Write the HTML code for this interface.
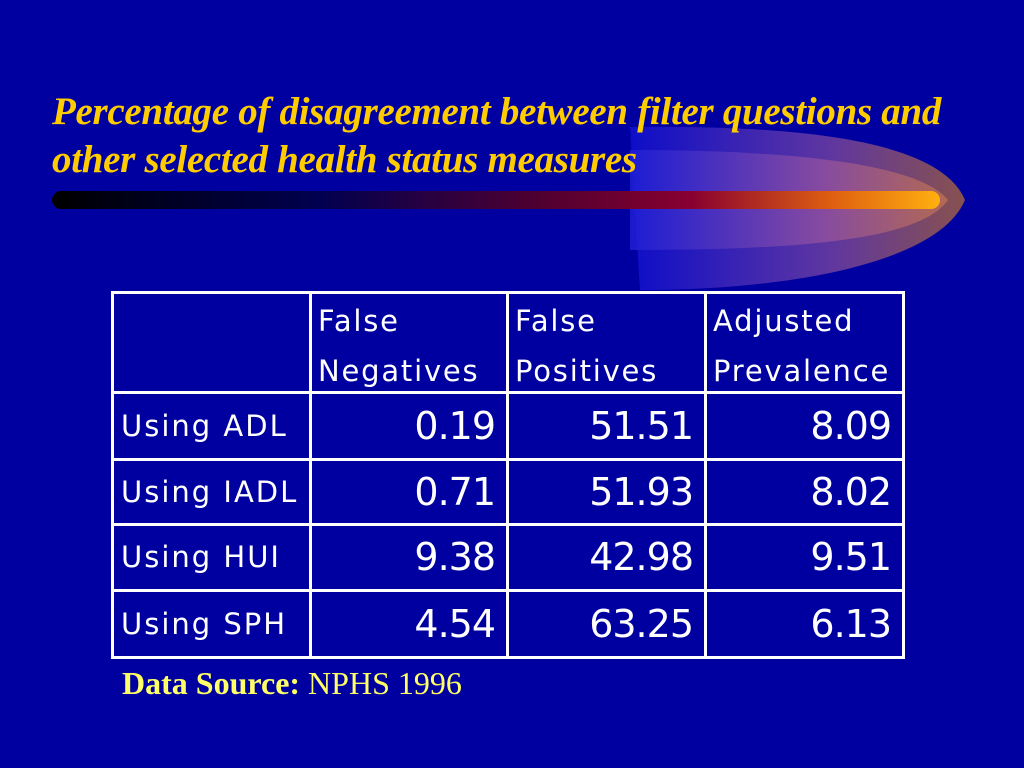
<!DOCTYPE html>
<html><head><meta charset="utf-8">
<style>
html,body{margin:0;padding:0}
body{width:1024px;height:768px;background:#0000a0;position:relative;overflow:hidden;font-family:"Liberation Sans",sans-serif}
.title{position:absolute;left:52px;top:88px;color:#ffcc00;font:italic bold 39px/48px "Liberation Serif",serif;margin:0;white-space:nowrap;letter-spacing:-0.3px}
#tbl{position:absolute;left:0;top:0}
.cell{position:absolute;color:#fff;font-family:"DejaVu Sans",sans-serif;box-sizing:border-box;white-space:nowrap}
.src{position:absolute;left:122px;top:665px;font:32px "Liberation Serif",serif;color:#ffff66}
</style></head><body>
<svg width="1024" height="768" style="position:absolute;left:0;top:0">
<defs>
<linearGradient id="glow" x1="0" x2="1"><stop offset="0" stop-color="#1010d0"/><stop offset="0.6" stop-color="#7040a0"/><stop offset="1" stop-color="#a06040"/></linearGradient>
<linearGradient id="glow2" x1="0" x2="1"><stop offset="0" stop-color="#2020d8"/><stop offset="0.6" stop-color="#9050a0"/><stop offset="1" stop-color="#c07050"/></linearGradient>
<linearGradient id="bar" x1="0" x2="1"><stop offset="0" stop-color="#000"/><stop offset="0.3" stop-color="#000050"/><stop offset="0.55" stop-color="#500030"/><stop offset="0.72" stop-color="#880030"/><stop offset="0.88" stop-color="#e06010"/><stop offset="1" stop-color="#ffb010"/></linearGradient>
</defs>
<path d="M630,127 C800,125 940,140 965,200 C940,260 800,290 640,290 Z" fill="url(#glow)" opacity="0.85"/>
<path d="M630,150 C800,150 920,165 948,200 C920,240 800,250 630,250 Z" fill="url(#glow2)" opacity="0.8"/>
<rect x="52" y="191" width="888" height="18" rx="9" fill="url(#bar)"/>
</svg>
<h1 class="title">Percentage of disagreement between filter questions and<br>other selected health status measures</h1>
<div id="tbl"></div>
<div class="src"><b>Data Source:</b> NPHS 1996</div>
<script>
const columns=["False\nNegatives","False\nPositives","Adjusted\nPrevalence"];
const rows=["Using ADL","Using IADL","Using HUI","Using SPH"];
const falseNegatives=["0.19","0.71","9.38","4.54"];
const falsePositives=["51.51","51.93","42.98","63.25"];
const adjustedPrevalence=["8.09","8.02","9.51","6.13"];
const series=[falseNegatives,falsePositives,adjustedPrevalence];
const xs=[112,310,507,705,903];
const ys=[292,392,459,524,590,657];
const tbl=document.getElementById('tbl');
function line(x,y,w,h){const d=document.createElement('div');d.style.cssText=`position:absolute;left:${x}px;top:${y}px;width:${w}px;height:${h}px;background:#fff`;


tbl.appendChild(d);}
xs.forEach(x=>line(x-1,ys[0]-1,3,ys[ys.length-1]-ys[0]+3));
ys.forEach(y=>line(xs[0]-1,y-1,xs[xs.length-1]-xs[0]+3,3));
function cell(x,y,w,h,txt,style,name){const d=document.createElement('div');d.className='cell';


d.style.cssText+=`left:${x}px;top:${y}px;width:${w}px;height:${h}px;`+style;d.textContent=txt;tbl.appendChild(d);}
columns.forEach((c,i)=>{const p=c.split('\n');
cell(xs[i+1]+8,ys[0]+12,195,40,p[0],'font-size:29px;letter-spacing:1.8px;','column-header');
cell(xs[i+1]+8,ys[0]+62,195,40,p[1],'font-size:29px;letter-spacing:1.8px;','column-header');});
rows.forEach((r,j)=>{const h=ys[j+2]-ys[j+1];
cell(xs[0]+9,ys[j+1]+(h-38)/2,195,38,r,'font-size:29px;line-height:38px;letter-spacing:2px;','row-label');
series.forEach((s,i)=>cell(xs[i+1],ys[j+1]+(h-46)/2,xs[i+2]-xs[i+1]-12,46,s[j],'font-size:38px;line-height:46px;text-align:right;letter-spacing:-1px;','value-cell'));});
</script>
</body></html>
